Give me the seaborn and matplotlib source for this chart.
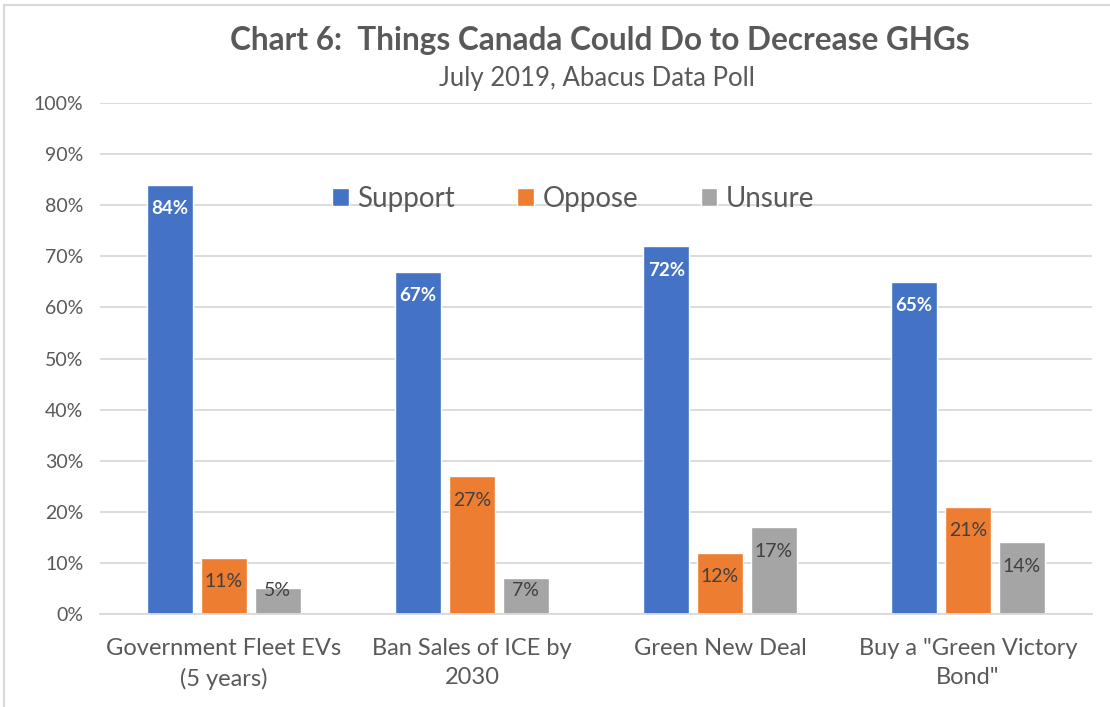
import matplotlib.pyplot as plt
import seaborn as sns
import pandas as pd
from matplotlib.lines import Line2D

categories = ["Government Fleet EVs\n(5 years)", "Ban Sales of ICE by\n2030",
              "Green New Deal", "Buy a \"Green Victory\nBond\""]
series = ["Support", "Oppose", "Unsure"]
support = [84, 67, 72, 65]
oppose = [11, 27, 12, 21]
unsure = [5, 7, 17, 14]

COLORS = {"Support": "#4472C4", "Oppose": "#ED7D31", "Unsure": "#A5A5A5"}
TEXT = "#595959"
GRID = "#D9D9D9"

df = pd.DataFrame({
    "category": categories * 3,
    "series": ["Support"] * 4 + ["Oppose"] * 4 + ["Unsure"] * 4,
    "value": support + oppose + unsure,
})

sns.set_theme(style="white")
plt.rcParams["font.family"] = ["Lato", "DejaVu Sans"]

fig = plt.figure(figsize=(11.1, 7.07), dpi=100)
ax = fig.add_axes([0.0901, 0.1315, 0.8937, 0.7228])
sns.barplot(data=df, x="category", y="value", hue="series", hue_order=series,
            palette=COLORS, width=0.65, gap=0.15, saturation=1, ax=ax,
            legend=True)

ax.set_ylim(0, 100)
ax.set_xlim(-0.5, 3.5)
ax.set_yticks(range(0, 101, 10))
ax.set_yticklabels([f"{v}%" for v in range(0, 101, 10)], fontsize=14, color=TEXT)
ax.tick_params(axis="x", labelsize=17, labelcolor=TEXT, length=0, pad=17)
ax.tick_params(axis="y", length=0, pad=12)
for lbl in ax.get_xticklabels():
    lbl.set_linespacing(1.5)
ax.set_xlabel("")
ax.set_ylabel("")
ax.grid(axis="y", color=GRID, linewidth=1.3)
ax.set_axisbelow(True)
for s in ["top", "right", "left"]:
    ax.spines[s].set_visible(False)
ax.spines["bottom"].set_color(GRID)
ax.spines["bottom"].set_linewidth(1.3)

# data labels inside the bar tops
for container, name in zip(ax.containers, series):
    for bar in container:
        v = bar.get_height()
        y = max(v - 4.7, 4.7)
        if name == "Support":
            ax.text(bar.get_x() + bar.get_width() / 2, y, f"{int(v)}%", ha="center",
                    va="center", fontsize=13.5, color="white", fontweight="bold")
        else:
            ax.text(bar.get_x() + bar.get_width() / 2, y, f"{int(v)}%", ha="center",
                    va="center", fontsize=14, color="#404040")

ax.legend(loc="center", bbox_to_anchor=(0.477, 0.812), ncol=3, frameon=False,
          fontsize=20, labelcolor=TEXT, handlelength=0.6, handleheight=0.6,
          handletextpad=0.3, columnspacing=2.25)

fig.text(0.54, 0.943, "Chart 6:  Things Canada Could Do to Decrease GHGs",
         ha="center", va="center", fontsize=22.7, fontweight="bold", color=TEXT)
fig.text(0.538, 0.889, "July 2019, Abacus Data Poll", ha="center", va="center",
         fontsize=18.5, color=TEXT)

# light chart border (top and left edges visible)
fig.add_artist(Line2D([0.004, 1.0], [0.993, 0.993], color=GRID, linewidth=1.5))
fig.add_artist(Line2D([0.004, 0.004], [0.0, 0.993], color=GRID, linewidth=1.5))

fig.savefig("out.png", dpi=100)
